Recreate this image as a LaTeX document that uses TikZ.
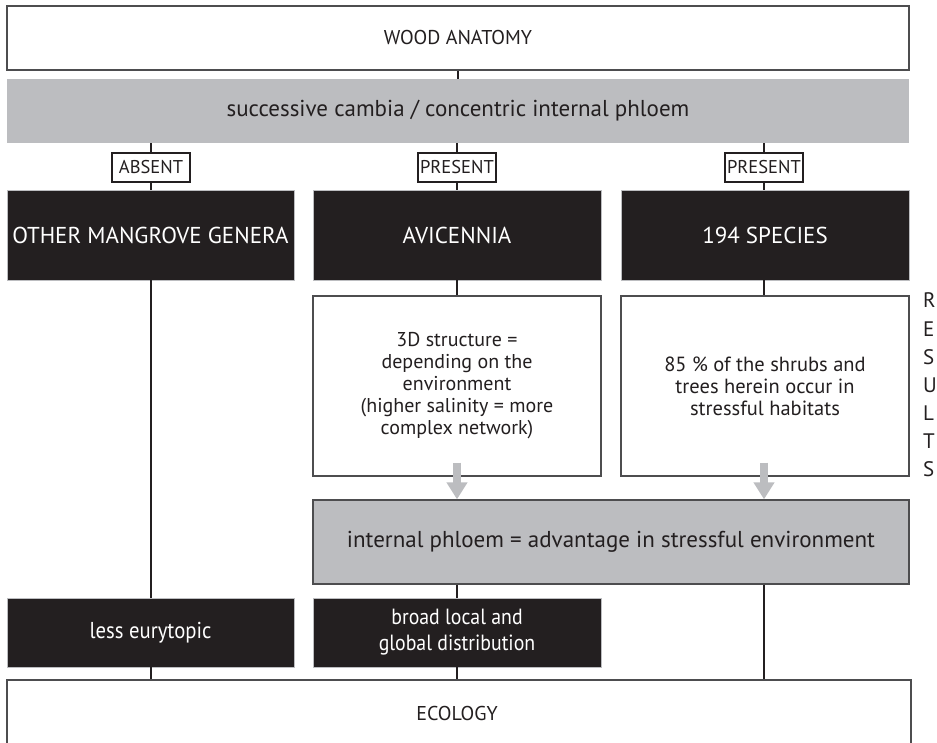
\documentclass[tikz,border=0pt]{standalone}
\usepackage{fontspec}
\setmainfont{PT Sans}
\newfontfamily\condfont[FakeStretch=0.9]{PT Sans}
\usetikzlibrary{arrows.meta}
\definecolor{boxblack}{HTML}{231F20}
\definecolor{boxgray}{HTML}{BCBDC0}
\definecolor{edgegray}{HTML}{4D4D4F}
\begin{document}
\begin{tikzpicture}[x=1pt,y=-1pt,
  txt/.style={font=\fontsize{20}{22}\selectfont},
  bigtxt/.style={font=\fontsize{23}{26}\selectfont},
  outlinebox/.style={draw=edgegray, line width=1.3pt, fill=white, inner sep=2pt, align=center, txt, text=boxblack},
  bandbox/.style={fill=boxgray, inner sep=2pt, align=center, bigtxt, text=boxblack},
  graybox/.style={draw=edgegray, line width=1.3pt, fill=boxgray, inner sep=2pt, align=center, bigtxt, text=boxblack},
  blackbox/.style={draw=boxgray, line width=0.6pt, fill=boxblack, text=white, inner sep=2pt, align=center, bigtxt},
  tagbox/.style={draw=boxblack, line width=1.2pt, fill=white, inner sep=0pt, minimum width=78, minimum height=29, font=\fontsize{18.5}{20}\selectfont, text=boxblack},
  conn/.style={draw=boxblack, line width=2pt},
  garrow/.style={draw=boxgray, line width=8pt, -{Triangle[width=20pt,length=17pt]}},
  vletter/.style={anchor=base west, inner sep=0pt, font=\fontsize{21}{28}\selectfont, text=boxblack}
]
\useasboundingbox (0,0) rectangle (937,743);
\clip (0,0) rectangle (937,743);

% top boxes
\node[outlinebox, minimum width=902, minimum height=64] (wood) at (458,38) {WOOD ANATOMY};
\node[bandbox, minimum width=902, minimum height=64] (band) at (458,111) {successive cambia / concentric internal phloem};

% tags
\node[tagbox] (absent) at (151,167.5) {ABSENT};
\node[tagbox] (present1) at (457,167.5) {PRESENT};
\node[tagbox] (present2) at (764,167.5) {PRESENT};

% black headers
\node[blackbox, minimum width=287, minimum height=90] (other) at (150.5,235) {OTHER MANGROVE GENERA};
\node[blackbox, minimum width=288, minimum height=90] (avic) at (457,235) {AVICENNIA};
\node[blackbox, minimum width=288, minimum height=90] (species) at (765,235) {194 SPECIES};

% white detail boxes
\node[outlinebox, minimum width=288, minimum height=180] (avdetail) at (457,386)
  {3D structure =\\depending on the\\environment\\(higher salinity = more\\complex network)};
\node[outlinebox, minimum width=288, minimum height=180, font=\fontsize{20.5}{22}\selectfont] (spdetail) at (765,386)
  {85 \% of the shrubs and\\trees herein occur in\\stressful habitats};

% gray conclusion
\node[graybox, minimum width=596, minimum height=84] (phloem) at (611,542)
  {internal phloem = advantage in stressful environment};

% bottom black boxes
\node[blackbox, minimum width=287, minimum height=69, font=\condfont\fontsize{23}{26}\selectfont] (eury) at (150.5,632.5) {less eurytopic};
\node[blackbox, minimum width=288, minimum height=69, font=\condfont\fontsize{22}{26}\selectfont] (broad) at (457,632.5) {broad local and\\global distribution};

% ecology
\node[outlinebox, minimum width=904, minimum height=80] (eco) at (459,720) {};
\node[txt, text=boxblack, inner sep=0pt] (ecotext) at (457,713) {ECOLOGY};

% connectors
\draw[conn] (wood.south) -- (band.north);
\draw[conn] (band.south -| absent.north) -- (absent.north);
\draw[conn] (absent.south) -- (other.north -| absent.south);
\draw[conn] (band.south -| present1.north) -- (present1.north);
\draw[conn] (present1.south) -- (avic.north -| present1.south);
\draw[conn] (band.south -| present2.north) -- (present2.north);
\draw[conn] (present2.south) -- (species.north -| present2.south);
\draw[conn] (other.south -| absent.south) -- (eury.north -| absent.south);
\draw[conn] (eury.south -| absent.south) -- (eco.north -| absent.south);
\draw[conn] (avic.south) -- (avdetail.north);
\draw[conn] (species.south -| present2.south) -- (spdetail.north -| present2.south);
\draw[conn] (phloem.south -| broad.north) -- (broad.north);
\draw[conn] (broad.south) -- (eco.north -| broad.south);
\draw[conn] (phloem.south -| present2.south) -- (eco.north -| present2.south);

% gray arrows
\draw[garrow] ([yshift=14pt]avdetail.south) -- (phloem.north -| avdetail.south);
\draw[garrow] ([yshift=14pt]spdetail.south -| present2.south) -- (phloem.north -| present2.south);

% vertical RESULTS
\node[vletter] (r1) at (923,308) {R};
\node[vletter] (r2) at (923,336) {E};
\node[vletter] (r3) at (923,364) {S};
\node[vletter] (r4) at (923,392) {U};
\node[vletter] (r5) at (923,420) {L};
\node[vletter] (r6) at (923,448) {T};
\node[vletter] (r7) at (923,476) {S};
\end{tikzpicture}
\end{document}
